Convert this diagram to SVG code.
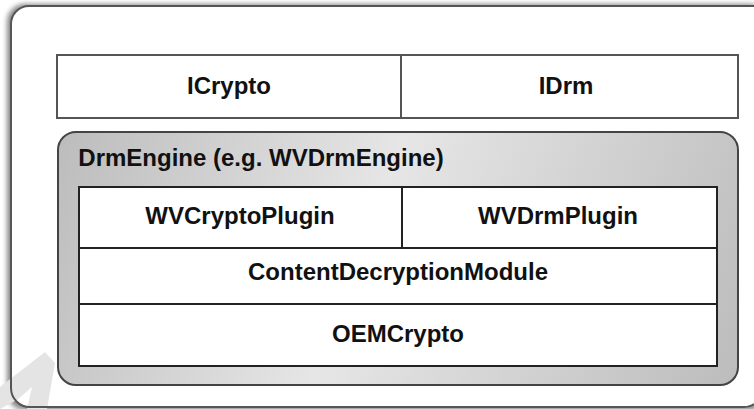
<svg xmlns="http://www.w3.org/2000/svg" width="754" height="409" viewBox="0 0 754 409">
<style>
text{font-family:"Liberation Sans",Arial,sans-serif;font-weight:bold;font-size:24px;fill:#111;text-anchor:middle}
.b{fill:#fff;stroke:#555;stroke-width:2}
.i{fill:#fff;stroke:#222;stroke-width:2}
</style>
<defs>
<linearGradient id="g" gradientUnits="userSpaceOnUse" x1="58" y1="132" x2="738" y2="385">
<stop offset="0" stop-color="#bcbcbc"/><stop offset=".45" stop-color="#e6e6e6"/><stop offset="1" stop-color="#bcbcbc"/>
</linearGradient>
<filter id="s" x="-3%" y="-3%" width="106%" height="106%"><feGaussianBlur stdDeviation="2.5"/></filter>
</defs>
<rect width="754" height="409" fill="#fff"/>
<rect x="7" y="4" width="760" height="406" rx="18" fill="#888" filter="url(#s)"/>
<g id="outer">
<path d="M760 6H29A18 18 0 0 0 11 24V388A19 19 0 0 0 30 407H744Q752 407 756 402V6Z" fill="#fff"/>
<path d="M0 387L45 352L55 363L47 409H27L32 387L17 400L0 409Z" fill="#e4e4e4"/>
<path d="M754 6H29A18 18 0 0 0 11 24V388A19 19 0 0 0 30 407H744Q750 407 754 404" fill="none" stroke="#555" stroke-width="2"/>
</g>
<g id="ICrypto"><rect class="b" x="57" y="55" width="344" height="63"/><text x="229" y="94">ICrypto</text></g>
<g id="IDrm"><rect class="b" x="401" y="55" width="337" height="63"/><text x="566" y="94">IDrm</text></g>
<g id="DrmEngine"><rect x="58" y="132" width="680" height="253" rx="18" fill="url(#g)" stroke="#444" stroke-width="2"/><text x="261" y="166">DrmEngine (e.g. WVDrmEngine)</text></g>
<g id="WVCryptoPlugin"><rect class="i" x="79" y="187" width="323" height="61"/><text x="240" y="224">WVCryptoPlugin</text></g>
<g id="WVDrmPlugin"><rect class="i" x="402" y="187" width="315" height="61"/><text x="558" y="224">WVDrmPlugin</text></g>
<g id="ContentDecryptionModule"><rect class="i" x="79" y="248" width="638" height="56"/><text x="398" y="280">ContentDecryptionModule</text></g>
<g id="OEMCrypto"><rect class="i" x="79" y="304" width="638" height="62"/><text x="398" y="342">OEMCrypto</text></g>
<g id="connectors"/>
</svg>
